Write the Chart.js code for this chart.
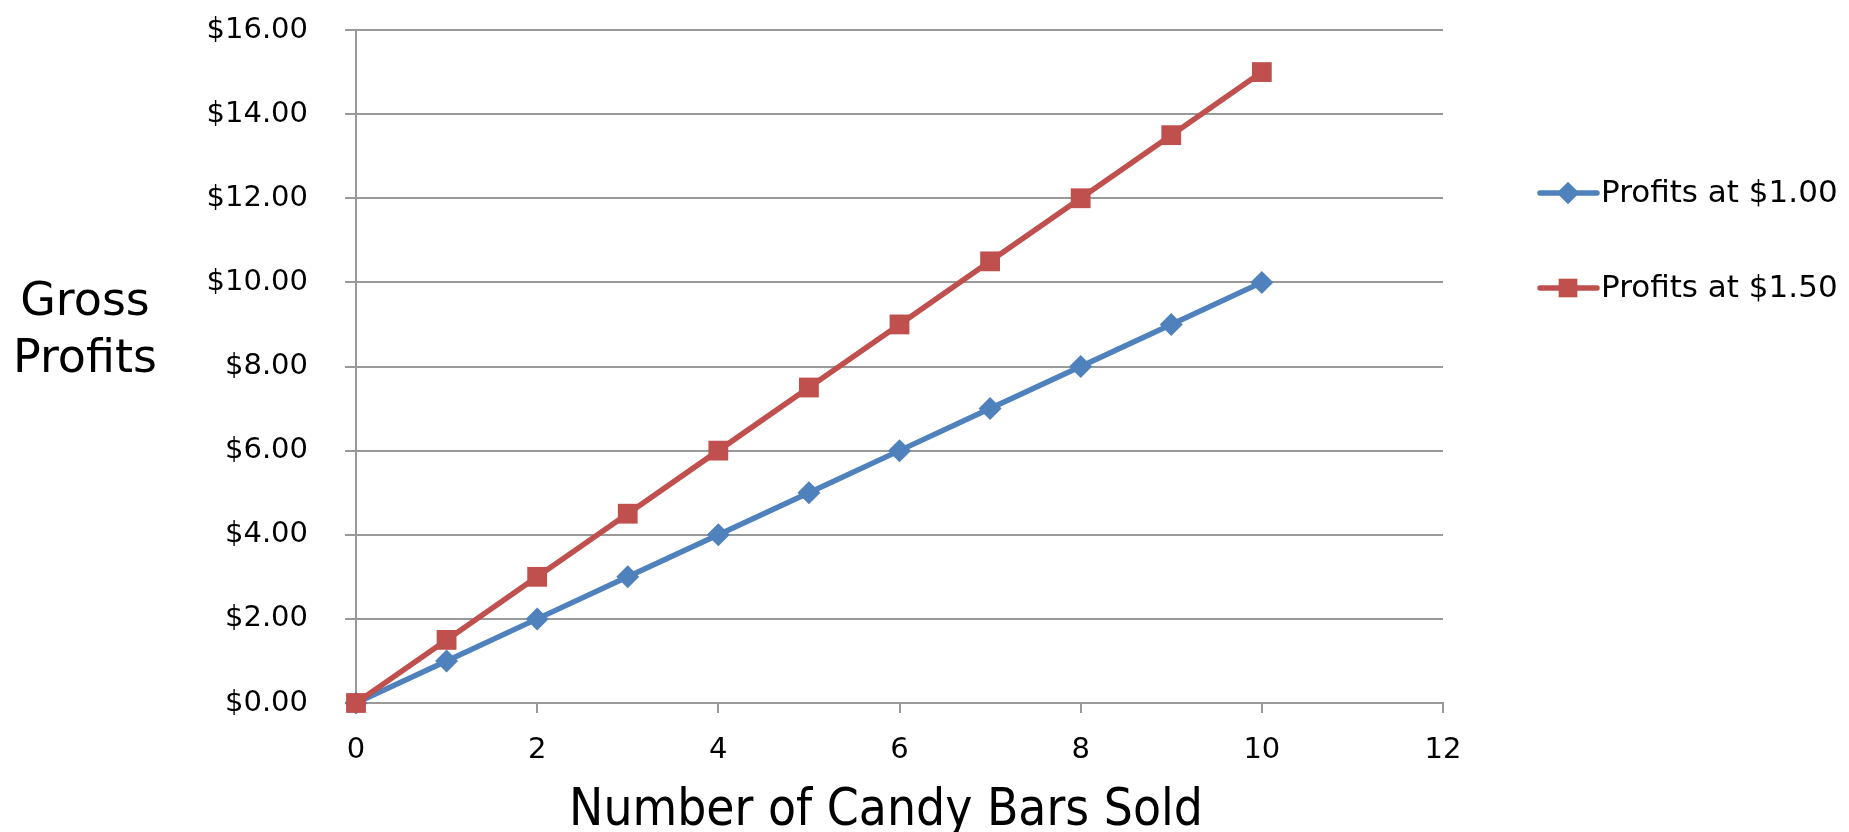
<!DOCTYPE html>
<html>
<head>
<meta charset="utf-8">
<script src="https://cdn.jsdelivr.net/npm/chart.js@4/dist/chart.umd.min.js"></script>
<style>
  html, body { margin: 0; padding: 0; background: #ffffff; }
  #wrap { width: 1849px; height: 832px; position: relative; }
</style>
</head>
<body>
<div id="wrap"><canvas id="chart"></canvas></div>
<script>
// Candy bars sold and gross profits at two selling prices
const candyBarsSold = [0, 1, 2, 3, 4, 5, 6, 7, 8, 9, 10];
const profitsAt100 = [0, 1, 2, 3, 4, 5, 6, 7, 8, 9, 10];
const profitsAt150 = [0, 1.5, 3, 4.5, 6, 7.5, 9, 10.5, 12, 13.5, 15];
const seriesNames = ['Profits at $1.00', 'Profits at $1.50'];
const yAxisTitle = ['Gross', 'Profits'];
const xAxisTitle = 'Number of Candy Bars Sold';

const BLUE = '#4F81BD';
const RED = '#C0504D';
const GRID = '#999999';
const TICK_FONT = { family: 'DejaVu Sans', size: 29 };

const toPoints = (ys) => candyBarsSold.map((x, i) => ({ x: x, y: ys[i] }));

// Axis titles and the legend, drawn beside the plot area
const sidePlugin = {
  id: 'sideText',
  afterDraw(chart) {
    const ctx = chart.ctx;
    const area = chart.chartArea;
    ctx.save();
    ctx.fillStyle = '#000';

    // vertical axis title, horizontal text on two lines
    ctx.font = '46px "DejaVu Sans"';
    ctx.textAlign = 'center';
    ctx.textBaseline = 'alphabetic';
    ctx.fillText(yAxisTitle[0], 85, 315);
    ctx.fillText(yAxisTitle[1], 85, 372);

    // horizontal axis title
    ctx.font = '51px "DejaVu Sans Condensed", "DejaVu Sans"';
    ctx.fillText(xAxisTitle, 886, 825);

    // legend
    const lx = area.right + 97;
    const rows = [193, 288];
    chart.data.datasets.forEach((ds, i) => {
      const y = rows[i];
      ctx.strokeStyle = ds.borderColor;
      ctx.lineWidth = ds.borderWidth;
      ctx.lineCap = 'round';
      ctx.beginPath();
      ctx.moveTo(lx, y);
      ctx.lineTo(lx + 57, y);
      ctx.stroke();
      ctx.fillStyle = ds.pointBackgroundColor;
      Chart.helpers.drawPoint(ctx, {
        pointStyle: ds.pointStyle,
        radius: ds.pointStyle === 'rect' ? 13 : 11,
        borderWidth: 0,
        rotation: 0
      }, lx + 28, y);
      ctx.fill();
      ctx.fillStyle = '#000';
      ctx.font = '31px "DejaVu Sans"';
      ctx.textAlign = 'left';
      ctx.textBaseline = 'middle';
      ctx.fillText(ds.label, lx + 61, y + 1);
    });
    ctx.restore();
  }
};

new Chart(document.getElementById('chart'), {
  type: 'line',
  data: {
    datasets: [
      {
        label: seriesNames[0],
        data: toPoints(profitsAt100),
        borderColor: BLUE,
        pointBackgroundColor: BLUE,
        pointBorderWidth: 0,
        borderWidth: 5.5,
        pointStyle: 'rectRot',
        pointRadius: 11.5,
        tension: 0,
        clip: false,
        order: 1
      },
      {
        label: seriesNames[1],
        data: toPoints(profitsAt150),
        borderColor: RED,
        pointBackgroundColor: RED,
        pointBorderWidth: 0,
        borderWidth: 5.5,
        pointStyle: 'rect',
        pointRadius: 14,
        tension: 0,
        clip: false,
        order: 0
      }
    ]
  },
  options: {
    responsive: true,
    maintainAspectRatio: false,
    animation: false,
    layout: { padding: { left: 0, top: 30, right: 406, bottom: 0 } },
    plugins: { legend: { display: false }, tooltip: { enabled: false } },
    scales: {
      x: {
        type: 'linear', min: 0, max: 12,
        afterFit(scale) { scale.height = 129; },
        ticks: { stepSize: 2, color: '#000', padding: 20, maxRotation: 0, font: TICK_FONT },
        grid: { drawOnChartArea: false, tickLength: 10, color: GRID, lineWidth: 2 },
        border: { display: true, color: GRID, width: 2 }
      },
      y: {
        min: 0, max: 16,
        afterFit(scale) {
          scale.width = 356;
          scale.paddingTop = 0;
          scale.paddingBottom = 0;
        },
        ticks: { stepSize: 2, color: '#000', padding: 37, font: TICK_FONT,
          callback: (v) => '$' + Number(v).toFixed(2) },
        grid: { tickLength: 11, color: GRID, lineWidth: 2 },
        border: { display: true, color: GRID, width: 2 }
      }
    }
  },
  plugins: [sidePlugin]
});
</script>
</body>
</html>
